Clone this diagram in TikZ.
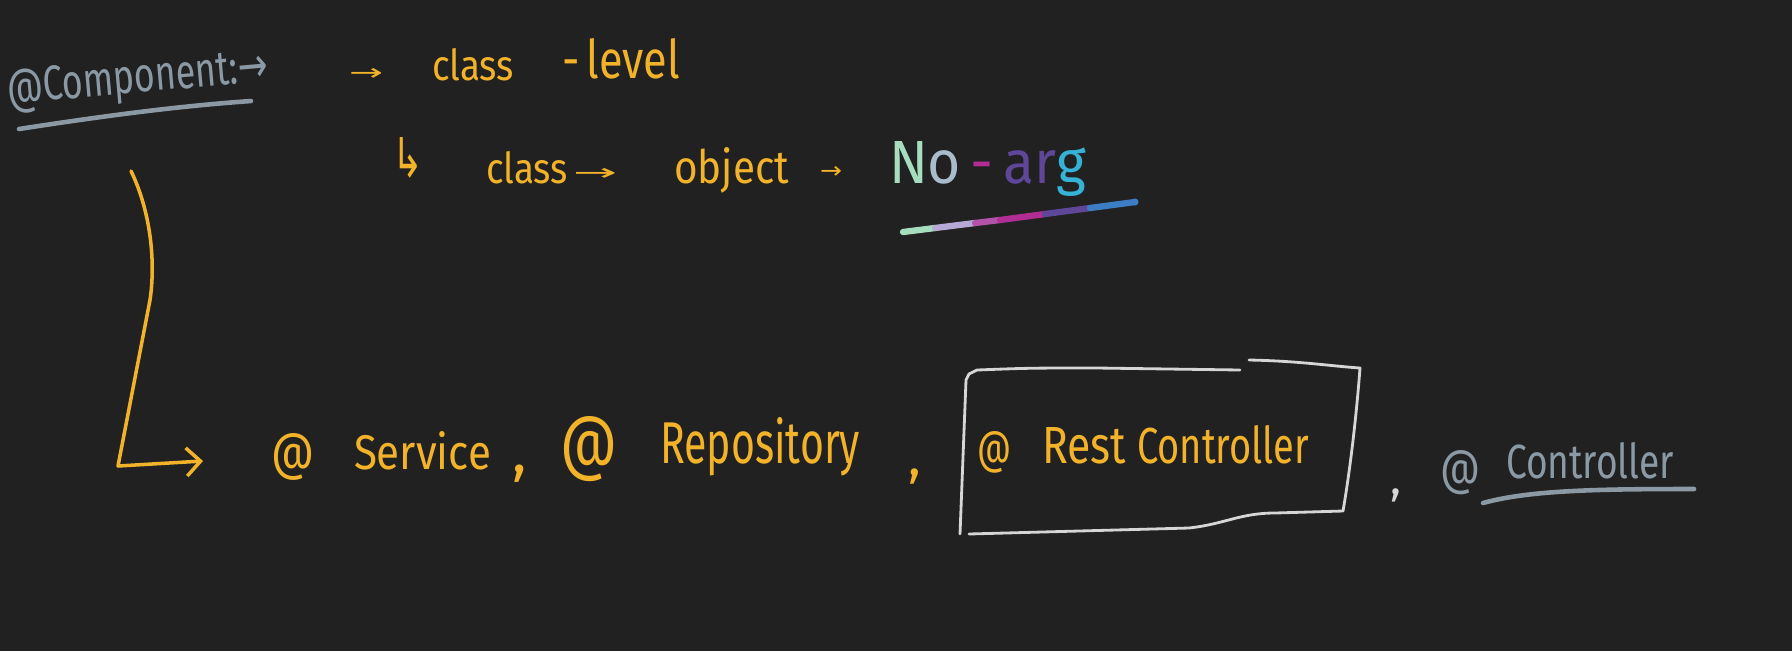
\documentclass[tikz,border=0pt]{standalone}
\usepackage{fontspec}
\setmainfont{Fira Sans}
\newfontfamily\symf{DejaVu Sans}
\usepackage{graphicx}
\usetikzlibrary{arrows.meta}
\definecolor{bg}{HTML}{212121}
\definecolor{gold}{HTML}{F2B32A}
\definecolor{slate}{HTML}{8A99A3}
\definecolor{boxw}{HTML}{D6D6D6}
\definecolor{mint}{HTML}{A6DDBF}
\definecolor{bluegrey}{HTML}{A9BCCB}
\definecolor{magen}{HTML}{B02E93}
\definecolor{purp}{HTML}{5E4699}
\definecolor{cyanx}{HTML}{36B2D6}
\definecolor{lav}{HTML}{B7A9D6}
\definecolor{blux}{HTML}{3C7EC6}
\newdimen\pxu \pxu=0.01cm
\newcommand\fw[2]{\resizebox{#1\pxu}{!}{#2}}
\newcommand\fwh[3]{\resizebox{#1\pxu}{#2\pxu}{#3}}
\begin{document}
\begin{tikzpicture}[x=0.01cm,y=-0.01cm,
  txt/.style={anchor=base west,inner sep=0pt,outer sep=0pt},
  goldtxt/.style={txt,text=gold},
  slatetxt/.style={txt,text=slate},
  goldink/.style={draw=gold,line width=1pt,line cap=round,line join=round},
  slateink/.style={draw=slate,line width=1.3pt,line cap=round},
  boxline/.style={draw=boxw,line width=0.8pt,line cap=round,line join=round},
  rainbow/.style={line width=1.8pt,line cap=round}]
\fill[bg] (0,0) rectangle (1792,651);
\useasboundingbox (0,0) rectangle (1792,651);

% --- first line
\node[slatetxt,rotate=5] (comp) at (8,104) {\fwh{262}{34}{@Component:{\symf →}}};
\draw[slateink] (19,129) .. controls (110,115) and (180,106) .. (251,101);
\node[goldtxt] (arr1) at (349,80) {\fwh{34}{12}{\symf →}};
\node[goldtxt] (class1) at (432,80) {\fwh{82}{32}{class}};
\node[goldtxt] (level) at (562,78) {\fwh{118}{40}{-\,level}};

% --- second line
\node[goldtxt] (hook) at (392,177) {\fwh{31}{40}{\symf ↳}};
\node[goldtxt] (class2) at (486,183) {\fwh{82}{32}{class}};
\node[goldtxt] (arr2) at (573,180) {\fwh{44}{12}{\symf →}};
\node[goldtxt] (object) at (674,183) {\fwh{115}{36}{object}};
\node[goldtxt] (arr3) at (820,178) {\fwh{22}{12}{\symf →}};
\node[txt] (noarg) at (889,183) {\fwh{197}{42}{\color{mint}N\color{bluegrey}o\,\color{magen}-\,\color{purp}ar\color{cyanx}g}};
\draw[rainbow,mint] (903,232) -- (935,228);
\draw[rainbow,lav] (935,228) -- (975,223);
\draw[rainbow,magen!70!lav] (975,223) -- (1000,220);
\draw[rainbow,magen] (1000,220) -- (1045,214);
\draw[rainbow,purp] (1045,214) -- (1090,208);
\draw[rainbow,blux] (1090,208) -- (1135,202);
\fill[blux] (1135,202) circle (3.5);

% --- L arrow
\coordinate (Ltop) at (131,171);
\coordinate (Lend) at (203,461);
\draw[goldink,-{Straight Barb[length=4pt,width=8pt]}] (Ltop) .. controls (150,210) and (156,260) .. (150,300) -- (118,466) -- (Lend);

% --- third line
\node[goldtxt] (at1) at (271,469) {\fwh{43}{36}{@}};
\node[goldtxt] (service) at (354,469) {\fwh{137}{38}{Service}};
\node[goldtxt] (c1) at (512,472) {\fontsize{17}{17}\selectfont ,};
\node[goldtxt] (at2) at (560,466) {\fwh{57}{50}{@}};
\node[goldtxt] (repo) at (660,463) {\fwh{200}{46}{Repository}};
\node[goldtxt] (c2) at (908,475) {\fontsize{15}{15}\selectfont ,};

% box
\draw[boxline] (1240,370) -- (1097,368) .. controls (1030,368) .. (977,370) -- (969,374) -- (966,380) -- (960,534);
\draw[boxline] (969,534) -- (1189,528) .. controls (1225,524) and (1240,513) .. (1275,513) -- (1343,511) .. controls (1350,470) and (1356,420) .. (1360,368) .. controls (1330,366) and (1300,361) .. (1249,360);
\node[goldtxt] (at3) at (977,463) {\fwh{34}{32}{@}};
\node[goldtxt] (rest) at (1042,463) {\fwh{84}{36}{Rest}};
\node[goldtxt] (ctrl) at (1137,463) {\fwh{172}{38}{Controller}};

\node[txt,text=boxw] (c3) at (1390,494) {\fontsize{13}{13}\selectfont ,};
\node[slatetxt] (at4) at (1440,484) {\fwh{40}{34}{@}};
\node[slatetxt] (ctrl2) at (1506,478) {\fwh{168}{36}{Controller}};
\draw[slateink] (1483,503) .. controls (1530,490) and (1600,489) .. (1694,489);
\end{tikzpicture}
\end{document}
